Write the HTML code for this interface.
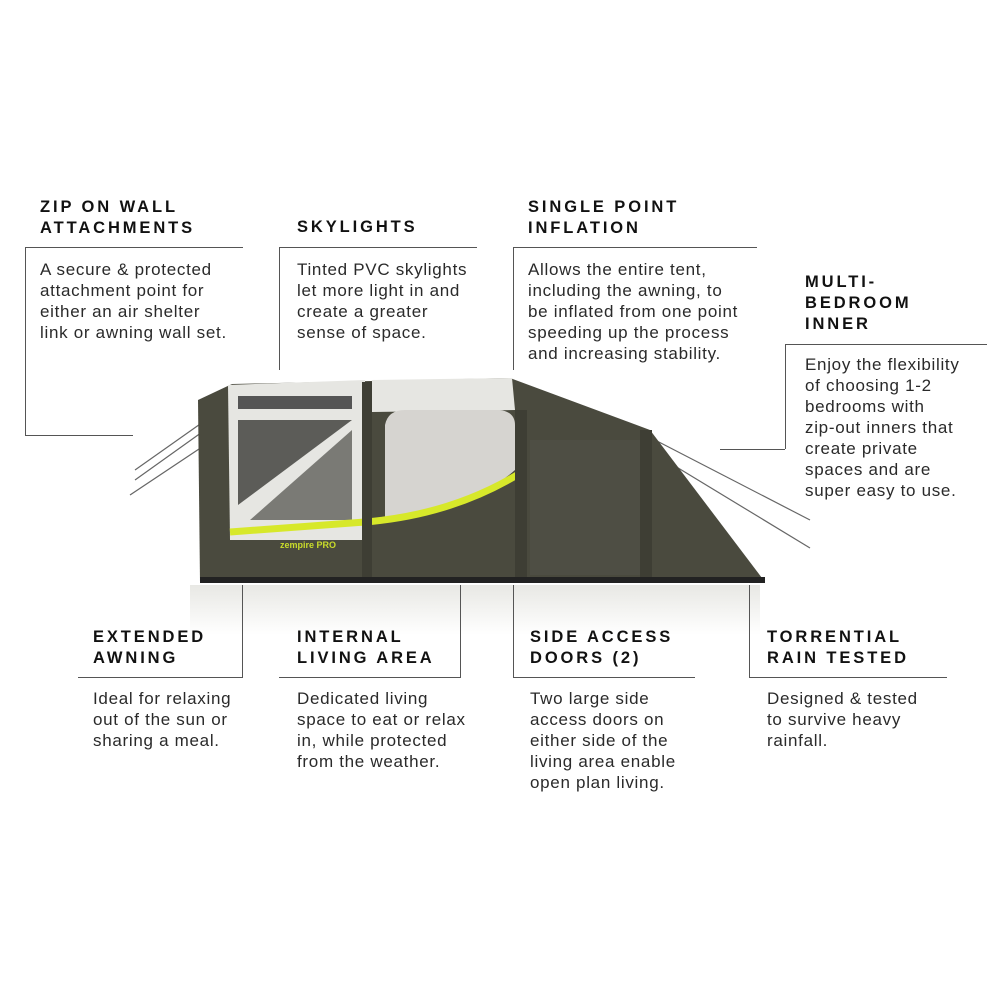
<!DOCTYPE html>
<html><head><style>
body{margin:0;background:#fff;}
#c{position:relative;width:1000px;height:1000px;overflow:hidden;font-family:"Liberation Sans",sans-serif;color:#222;}
.h{position:absolute;font-weight:bold;font-size:16.5px;letter-spacing:2.9px;line-height:21px;color:#111;}
.t{position:absolute;font-size:17px;letter-spacing:0.7px;line-height:21px;color:#2a2a2a;white-space:nowrap;}
.l{position:absolute;background:#555;}
</style></head><body><div id="c">
<svg width="1000" height="1000" style="position:absolute;left:0;top:0">
<defs><linearGradient id="r" x1="0" y1="0" x2="0" y2="1"><stop offset="0" stop-color="#e8e8e4"/><stop offset="1" stop-color="#fff"/></linearGradient></defs>
<rect x="190" y="585" width="570" height="50" fill="url(#r)"/>
<g stroke="#666" stroke-width="1.2">
<line x1="220" y1="410" x2="135" y2="470"/><line x1="205" y1="430" x2="135" y2="480"/><line x1="205" y1="445" x2="130" y2="495"/>
<line x1="655" y1="440" x2="810" y2="520"/><line x1="665" y1="460" x2="810" y2="548"/>
</g>
<polygon points="232,384 510,378 650,430 762,578 200,582 198,400" fill="#4a4a3e"/>
<polygon points="228,385 365,380 365,540 230,540" fill="#e6e6e2"/>
<polygon points="372,380 512,378 515,410 372,412" fill="#e6e6e2"/>
<path d="M385,540 L385,425 Q388,410 405,410 L500,410 Q515,412 515,425 L515,470 Q470,510 385,520 Z" fill="#d6d4d0"/>
<rect x="238" y="396" width="114" height="13" fill="#555"/>
<polygon points="238,420 352,420 238,505" fill="#5c5c58"/>
<polygon points="352,430 352,520 250,520" fill="#7a7a75"/>
<path d="M230,532 L365,522 Q450,515 517,475" stroke="#d7e82a" stroke-width="7" fill="none"/>
<rect x="515" y="410" width="12" height="170" fill="#3e3e34"/>
<rect x="362" y="382" width="10" height="198" fill="#3e3e34"/>
<rect x="640" y="430" width="12" height="150" fill="#3e3e34"/>
<rect x="530" y="440" width="110" height="135" fill="#4e4e44"/>
<rect x="200" y="577" width="565" height="6" fill="#222"/>
<text x="280" y="548" font-size="9" font-weight="bold" fill="#c9dc2a" font-family="Liberation Sans">zempire PRO</text>
</svg>
<div class="l" style="left:25px;top:247px;width:218px;height:1px"></div>
<div class="l" style="left:25px;top:247px;width:1px;height:188px"></div>
<div class="l" style="left:25px;top:435px;width:108px;height:1px"></div>
<div class="l" style="left:279px;top:247px;width:198px;height:1px"></div>
<div class="l" style="left:279px;top:247px;width:1px;height:123px"></div>
<div class="l" style="left:513px;top:247px;width:244px;height:1px"></div>
<div class="l" style="left:513px;top:247px;width:1px;height:123px"></div>
<div class="l" style="left:785px;top:344px;width:202px;height:1px"></div>
<div class="l" style="left:785px;top:344px;width:1px;height:105px"></div>
<div class="l" style="left:720px;top:449px;width:65px;height:1px"></div>
<div class="l" style="left:242px;top:585px;width:1px;height:92px"></div>
<div class="l" style="left:78px;top:677px;width:165px;height:1px"></div>
<div class="l" style="left:460px;top:585px;width:1px;height:92px"></div>
<div class="l" style="left:279px;top:677px;width:182px;height:1px"></div>
<div class="l" style="left:513px;top:585px;width:1px;height:92px"></div>
<div class="l" style="left:513px;top:677px;width:182px;height:1px"></div>
<div class="l" style="left:749px;top:585px;width:1px;height:92px"></div>
<div class="l" style="left:749px;top:677px;width:198px;height:1px"></div>

<div class="h" style="left:40px;top:197px">ZIP ON WALL<br>ATTACHMENTS</div>
<div class="t" style="left:40px;top:259px">A secure &amp; protected<br>attachment point for<br>either an air shelter<br>link or awning wall set.</div>
<div class="h" style="left:297px;top:217px">SKYLIGHTS</div>
<div class="t" style="left:297px;top:259px">Tinted PVC skylights<br>let more light in and<br>create a greater<br>sense of space.</div>
<div class="h" style="left:528px;top:197px">SINGLE POINT<br>INFLATION</div>
<div class="t" style="left:528px;top:259px">Allows the entire tent,<br>including the awning, to<br>be inflated from one point<br>speeding up the process<br>and increasing stability.</div>
<div class="h" style="left:805px;top:272px">MULTI-<br>BEDROOM<br>INNER</div>
<div class="t" style="left:805px;top:354px">Enjoy the flexibility<br>of choosing 1-2<br>bedrooms with<br>zip-out inners that<br>create private<br>spaces and are<br>super easy to use.</div>
<div class="h" style="left:93px;top:627px">EXTENDED<br>AWNING</div>
<div class="t" style="left:93px;top:688px">Ideal for relaxing<br>out of the sun or<br>sharing a meal.</div>
<div class="h" style="left:297px;top:627px">INTERNAL<br>LIVING AREA</div>
<div class="t" style="left:297px;top:688px">Dedicated living<br>space to eat or relax<br>in, while protected<br>from the weather.</div>
<div class="h" style="left:530px;top:627px">SIDE ACCESS<br>DOORS (2)</div>
<div class="t" style="left:530px;top:688px">Two large side<br>access doors on<br>either side of the<br>living area enable<br>open plan living.</div>
<div class="h" style="left:767px;top:627px">TORRENTIAL<br>RAIN TESTED</div>
<div class="t" style="left:767px;top:688px">Designed &amp; tested<br>to survive heavy<br>rainfall.</div>
</div></body></html>
